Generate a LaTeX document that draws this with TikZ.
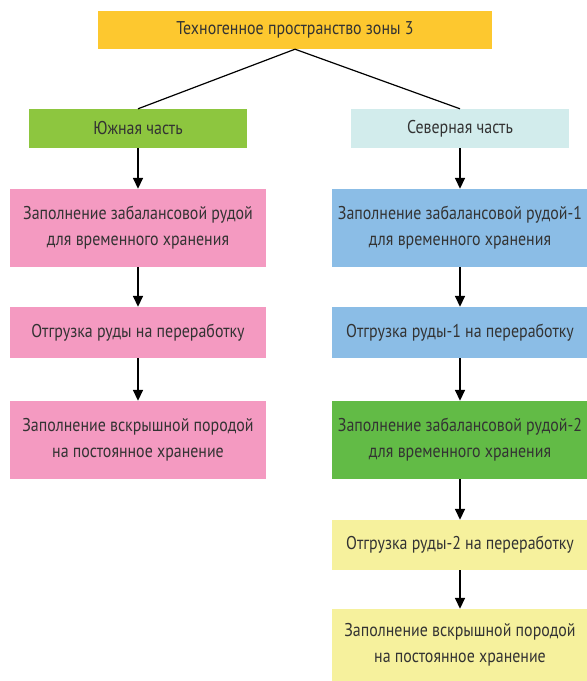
\documentclass[tikz,border=0pt]{standalone}
\usepackage{fontspec}
\setmainfont{PT Sans}[FakeStretch=0.86]
\usetikzlibrary{arrows.meta}
\definecolor{zonegold}{RGB}{253,200,47}
\definecolor{southgreen}{RGB}{141,198,63}
\definecolor{northcyan}{RGB}{210,236,236}
\definecolor{orepink}{RGB}{244,154,193}
\definecolor{oreblue}{RGB}{139,189,230}
\definecolor{oregreen}{RGB}{98,187,70}
\definecolor{oreyellow}{RGB}{246,241,157}
\definecolor{inkgray}{RGB}{51,51,51}
\tikzset{
  stage/.style={minimum width=256pt, inner sep=0pt, align=center, text=inkgray},
  part/.style={minimum width=218pt, minimum height=39pt, inner sep=0pt, text=inkgray},
  flow/.style={line width=1.6pt, -{Triangle[length=11pt,width=10pt]}},
}
\begin{document}
\begin{tikzpicture}[x=1pt, y=-1pt, font=\fontsize{18.5}{26}\selectfont, line join=round]
  \useasboundingbox (0,0) rectangle (587,681);
  % top level
  \node[fill=zonegold, minimum width=394pt, minimum height=38pt, inner sep=0pt, text=inkgray] (zone) at (295,30) {Техногенное пространство зоны 3};
  \node[part, fill=southgreen] (south) at (138,128.5) {Южная часть};
  \node[part, fill=northcyan] (north) at (460,128.5) {Северная часть};
  % southern part
  \node[stage, fill=orepink, minimum height=78pt] (s1) at (138,228) {Заполнение забалансовой рудой\\для временного хранения};
  \node[stage, fill=orepink, minimum height=51pt] (s2) at (138,332.5) {Отгрузка руды на переработку};
  \node[stage, fill=orepink, minimum height=78pt] (s3) at (138,440) {Заполнение вскрышной породой\\на постоянное хранение};
  % northern part
  \node[stage, fill=oreblue, minimum height=78pt] (n1) at (460,228) {Заполнение забалансовой рудой-1\\для временного хранения};
  \node[stage, fill=oreblue, minimum height=51pt] (n2) at (460,332.5) {Отгрузка руды-1 на переработку};
  \node[stage, fill=oregreen, minimum height=78pt] (n3) at (460,440) {Заполнение забалансовой рудой-2\\для временного хранения};
  \node[stage, fill=oreyellow, minimum height=50pt] (n4) at (460,545) {Отгрузка руды-2 на переработку};
  \node[stage, fill=oreyellow, minimum height=72pt] (n5) at (460,645) {Заполнение вскрышной породой\\на постоянное хранение};
  % connectors
  \draw[line width=1.2pt] (south.north) -- (zone.south) -- (north.north);
  \draw[flow] (south) -- (s1);
  \draw[flow] (s1) -- (s2);
  \draw[flow] (s2) -- (s3);
  \draw[flow] (north) -- (n1);
  \draw[flow] (n1) -- (n2);
  \draw[flow] (n2) -- (n3);
  \draw[flow] (n3) -- (n4);
  \draw[flow] (n4) -- (n5);
\end{tikzpicture}
\end{document}
